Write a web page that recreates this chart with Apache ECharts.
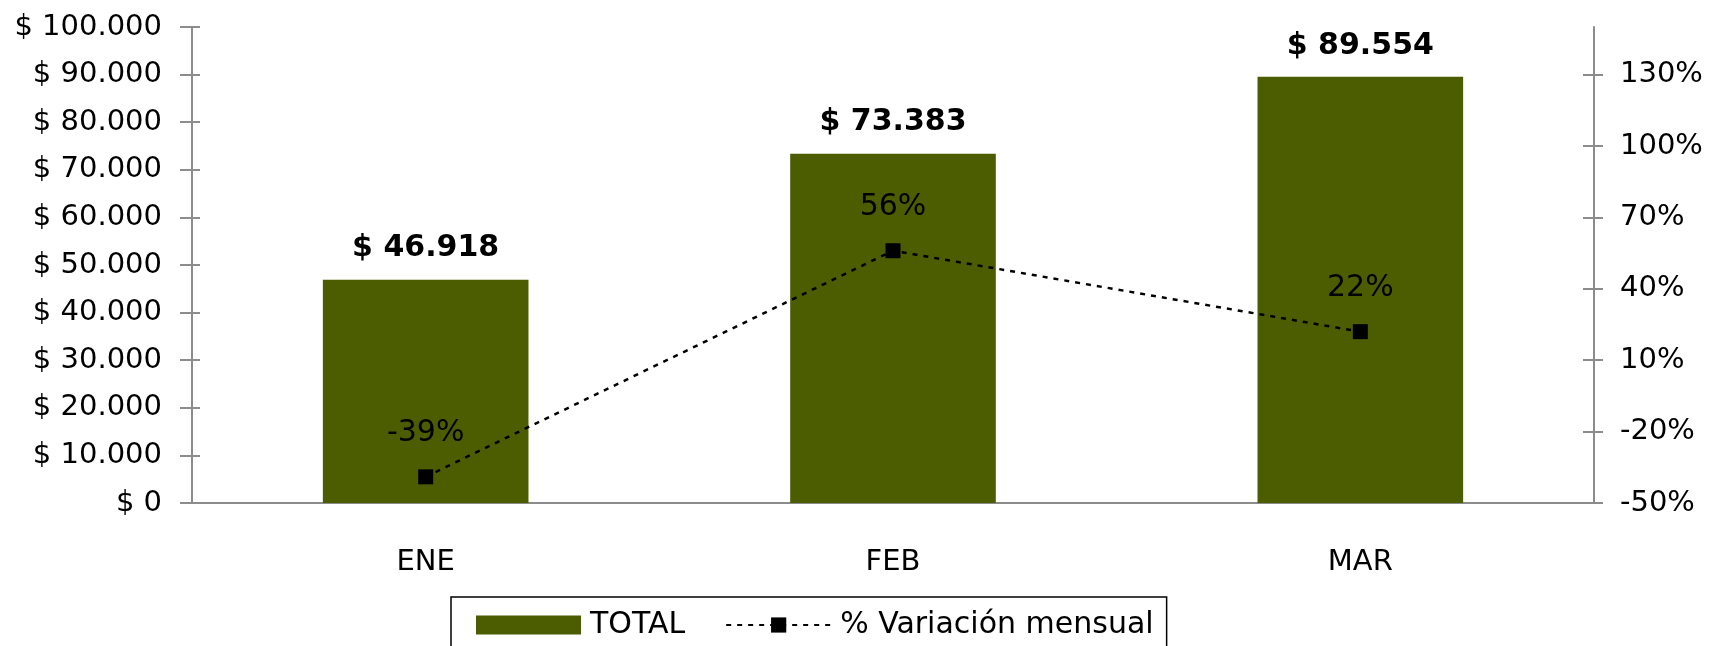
<!DOCTYPE html>
<html>
<head>
<meta charset="utf-8">
<script src="https://cdn.jsdelivr.net/npm/echarts@6/dist/echarts.min.js"></script>
<style>
  html, body { margin: 0; padding: 0; background: #fff; }
  #chart { width: 1712px; height: 646px; }
</style>
</head>
<body>
<div id="chart"></div>
<script>
// data
const months = ['ENE', 'FEB', 'MAR']
const totals = [46918, 73383, 89554]
const variacion = [-39, 56, 22]
const pctTicks = [-50, -20, 10, 40, 70, 100, 130]

const font = 'DejaVu Sans'
const olive = '#4b5d00'
const axisGray = '#8c8c8c'

const money = v => '$ ' + String(v).replace(/\B(?=(\d{3})+(?!\d))/g, '.')

const chart = echarts.init(document.getElementById('chart'))

chart.setOption({
    animation: false,
    textStyle: { fontFamily: font, color: '#000' },
    grid: { left: 192, right: 118, top: 27, bottom: 143 },
    legend: {
        left: 451,
        top: 597,
        padding: [13, 13, 14, 25],
        borderColor: '#000',
        borderWidth: 1.5,
        itemWidth: 105,
        itemHeight: 19,
        itemGap: 40,
        textStyle: { fontFamily: font, fontSize: 30, color: '#000', padding: [0, 0, 0, 4] },
        data: [{ name: 'TOTAL', icon: 'rect' }, '% Variación mensual'],
    },
    xAxis: {
        type: 'category',
        data: months,
        axisLine: { lineStyle: { color: axisGray, width: 2 } },
        axisTick: { length: 12, lineStyle: { color: axisGray, width: 2 } },
        axisLabel: { fontSize: 29, color: '#000', margin: 45 },
    },
    yAxis: [
        {
            type: 'value',
            min: 0,
            max: 100000,
            interval: 10000,
            axisLine: { show: true, lineStyle: { color: axisGray, width: 2 } },
            axisTick: { show: true, length: 12, lineStyle: { color: axisGray, width: 2 } },
            splitLine: { show: false },
            axisLabel: { fontSize: 29, color: '#000', margin: 30, formatter: money },
        },
        {
            type: 'value',
            position: 'right',
            min: -50,
            max: 150,
            axisLine: { show: true, lineStyle: { color: axisGray, width: 2 } },
            axisTick: { show: true, length: 9, customValues: pctTicks, lineStyle: { color: axisGray, width: 2 } },
            splitLine: { show: false },
            axisLabel: { fontSize: 29, color: '#000', margin: 26, customValues: pctTicks, formatter: v => v + '%' },
        },
        // inner halves of the crossing ticks
        {
            type: 'value',
            position: 'left',
            min: 0,
            max: 100000,
            interval: 10000,
            axisLine: { show: false },
            axisTick: { show: true, inside: true, length: 8, lineStyle: { color: axisGray, width: 2 } },
            splitLine: { show: false },
            axisLabel: { show: false },
        },
        {
            type: 'value',
            position: 'right',
            min: -50,
            max: 150,
            axisLine: { show: false },
            axisTick: { show: true, inside: true, length: 11, customValues: pctTicks, lineStyle: { color: axisGray, width: 2 } },
            splitLine: { show: false },
            axisLabel: { show: false },
        },
    ],
    series: [
        {
            name: 'TOTAL',
            type: 'bar',
            data: totals,
            barWidth: '44%',
            itemStyle: { color: olive },
            label: {
                show: true,
                position: 'top',
                distance: 16,
                fontFamily: font,
                fontSize: 30,
                fontWeight: 'bold',
                color: '#000',
                formatter: p => money(p.value),
            },
        },
        {
            name: '% Variación mensual',
            type: 'line',
            yAxisIndex: 1,
            data: variacion,
            symbol: 'rect',
            symbolSize: 15,
            itemStyle: { color: '#000' },
            lineStyle: { color: '#000', width: 2.5, type: [5, 6] },
            label: {
                show: true,
                position: 'top',
                distance: 21,
                fontFamily: font,
                fontSize: 30,
                color: '#000',
                formatter: p => p.value + '%',
            },
            z: 5,
        },
    ],
})
</script>
</body>
</html>
